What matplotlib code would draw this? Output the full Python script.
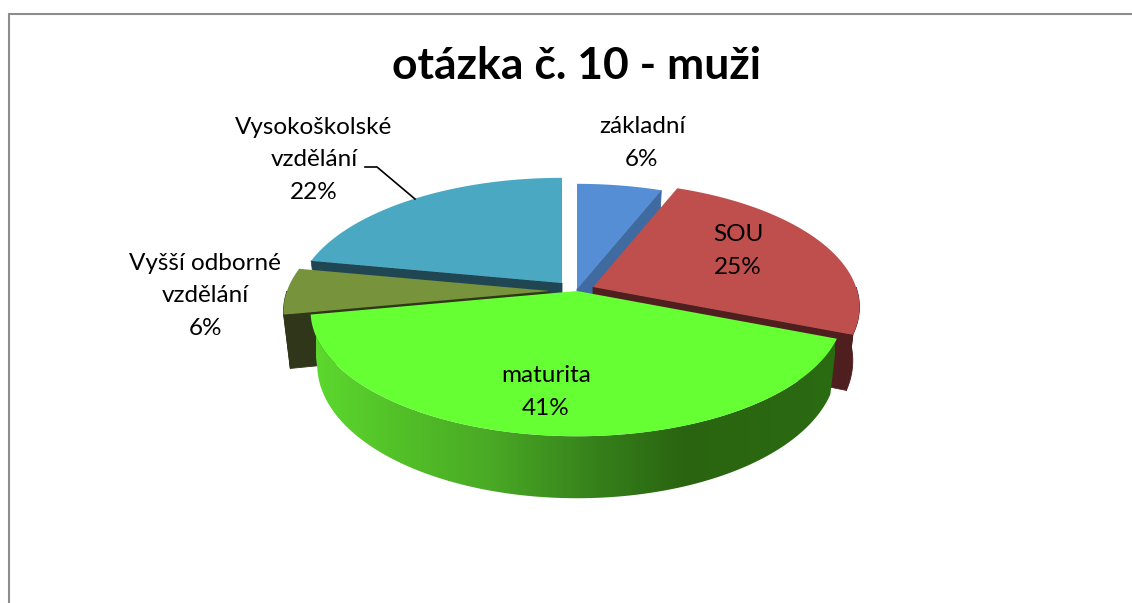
import numpy as np
import matplotlib
matplotlib.use("Agg")
import matplotlib.pyplot as plt
from matplotlib.colors import LinearSegmentedColormap

plt.rcParams['font.family'] = ['Lato', 'DejaVu Sans']

title = "otázka č. 10 - muži"
categories = ["základní", "SOU", "maturita", "Vyšší odborné\nvzdělání", "Vysokoškolské\nvzdělání"]
values = [6, 25, 41, 6, 22]

top_colors = ["#558ed5", "#be4f4d", "#66ff33", "#77933c", "#4aa8c3"]
wall_colors = ["#3f6ba0", "#4f1f20", "#2a6410", "#30361a", "#1f4652"]

# where the tip of each exploded slice ends up, in pixels
tips = [(577, 289), (593, 287), (577, 291), (550, 291), (562, 283)]
label_pos = [(642, 143), (738, 251), (546, 392), (205, 296), (314, 160)]
draw_order = [4, 0, 3, 1, 2]

# pie "camera"
RX, RY, K = 263, 122, 0.16
DEPTH, DEPTH_TILT, SHRINK = 52, 10, 0.975

# gradient on the big green wall, left to right
green_x0, green_x1 = 316, 835
green_wall = LinearSegmentedColormap.from_list("green_wall", [
    (0.0, "#5cd82e"), (0.16, "#52c028"), (0.33, "#4aaa25"),
    (0.55, "#357f1b"), (0.71, "#2a6410"), (1.0, "#2b6b12")])


def rim(tip, t):
    u, v = np.sin(t), np.cos(t)
    d = 1 + K * v
    return tip[0] + RX * u / d, tip[1] - RY * v / d


def drop(tip, x, y, t):
    # same point on the underside of the pie
    return tip[0] + (x - tip[0]) * SHRINK, y + DEPTH - DEPTH_TILT * np.cos(t)


fig = plt.figure(figsize=(11.32, 6.03), dpi=100)
ax = fig.add_axes([0, 0, 1, 1])

fractions = np.cumsum([0] + values) / float(sum(values))
for order, i in enumerate(draw_order):
    z = 2 + order
    tip = tips[i]
    ts = 2 * np.pi * np.linspace(fractions[i], fractions[i + 1], 240)
    xs, ys = rim(tip, ts)
    bx, by = drop(tip, xs, ys, ts)
    wall = wall_colors[i]

    # curved outer wall, front half only
    front = np.cos(ts) < 0
    if front.any():
        poly = ax.fill(np.r_[xs[front], bx[front][::-1]], np.r_[ys[front], by[front][::-1]],
                       color=wall, lw=0.6, zorder=z)[0]
        if categories[i] == "maturita":
            poly.set_visible(False)
            im = ax.imshow(np.linspace(0, 1, 256)[None, :], cmap=green_wall, aspect='auto',
                           extent=(green_x0, green_x1, 510, 300), zorder=z, interpolation='bilinear')
            im.set_clip_path(poly.get_path(), transform=ax.transData)
    # flat side walls, only the ones facing us (the big green slice hides its own)
    if categories[i] != "maturita":
        for k, facing in [(0, np.sin(ts[0]) < -1e-9), (-1, np.sin(ts[-1]) > 1e-9)]:
            if facing:
                ax.fill([tip[0], xs[k], bx[k], tip[0]],
                        [tip[1], ys[k], by[k], tip[1] + DEPTH],
                        color=wall, lw=0.6, zorder=z)
    # top face
    ax.fill(np.r_[tip[0], xs], np.r_[tip[1], ys], color=top_colors[i], lw=0, zorder=z)

ax.set_xlim(0, 1132)
ax.set_ylim(603, 0)
ax.axis('off')

ax.plot([8.5, 8.5, 1132], [603, 14, 14], color="#8c8c8c", lw=1.5, solid_joinstyle='miter')
ax.plot([365, 377, 415], [167, 167, 199], color="black", lw=1.2, zorder=9)

for name, val, pos in zip(categories, values, label_pos):
    ax.text(pos[0], pos[1], f"{name}\n{val}%", ha='center', va='center', fontsize=17.5,
            linespacing=1.68, color="black", zorder=10)

ax.text(576, 66, title, ha='center', va='center', fontsize=32, fontweight='bold', color="black", zorder=10)

fig.savefig("out.png", dpi=100, facecolor="white")
